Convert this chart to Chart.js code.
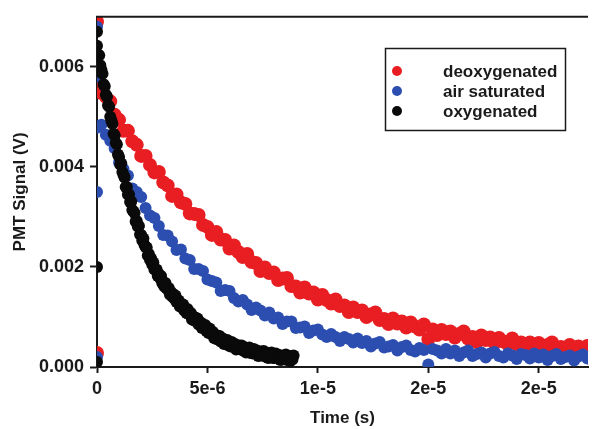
<!DOCTYPE html>
<html>
<head>
<meta charset="utf-8">
<script src="https://cdn.jsdelivr.net/npm/chart.js@4.4.1/dist/chart.umd.min.js"></script>
<style>
  html, body { margin: 0; padding: 0; background: #fff; }
</style>
</head>
<body>
<canvas id="chart" width="595" height="429"></canvas>
<script>
// series names and colours, same order as the legend
const seriesLabels = ["deoxygenated", "air saturated", "oxygenated"];
const seriesColors = ["rgb(232, 30, 34)", "rgb(44, 78, 176)", "rgb(10, 10, 10)"];

// sampling step of each trace (s)
const redStep = 2e-7;
const blueStep = 2e-7;
const blackStep = 5e-8;

// first samples at t = 0 (trigger spike)
const redEdge = [0.00028, 0.0069];
const blueEdge = [0.0002, 0.0068, 0.0058, 0.0035];
const blackEdge = [0.0001, 0.0067, 0.002];

// PMT signal (V), deoxygenated
const redValues = [
    0.00574, 0.00548, 0.0054, 0.00531, 0.00504, 0.00494, 0.00472, 0.00472, 0.00451, 0.00444,
    0.00422, 0.00422, 0.00404, 0.00389, 0.0039, 0.00369, 0.00363, 0.00342, 0.00345, 0.00329,
    0.00326, 0.00307, 0.00306, 0.00304, 0.00284, 0.0028, 0.00264, 0.0027, 0.00255, 0.00254,
    0.00237, 0.00243, 0.0023, 0.0022, 0.00226, 0.0021, 0.00208, 0.00192, 0.00199, 0.00188,
    0.00189, 0.00174, 0.00177, 0.00178, 0.00162, 0.00161, 0.00149, 0.00159, 0.00147, 0.00149,
    0.00135, 0.00144, 0.00134, 0.00127, 0.00135, 0.00122, 0.00123, 0.0011, 0.00119, 0.0011,
    0.00113, 0.001, 0.00105, 0.00109, 0.00094, 0.00096, 0.00086, 0.00097, 0.00087, 0.00091,
    0.00079, 0.00089, 0.00081, 0.00075, 0.00085, 0.00056, 0.00075, 0.00064, 0.00074, 0.00066,
    0.00071, 0.00059, 0.00066, 0.00071, 0.00057, 0.0006, 0.0005, 0.00063, 0.00054, 0.00059,
    0.00048, 0.00058, 0.00051, 0.00046, 0.00057, 0.00046, 0.00049, 0.00038, 0.00049, 0.00043,
    0.00048, 0.00037, 0.00044, 0.00049, 0.00037, 0.0004, 0.00031, 0.00044, 0.00036, 0.00041,
    0.0003, 0.00042, 0.00035
];

// PMT signal (V), air saturated
const blueValues = [
    0.00478, 0.00484, 0.00464, 0.00452, 0.00437, 0.00409, 0.00396, 0.00383, 0.00357, 0.0035,
    0.0034, 0.00318, 0.00303, 0.00298, 0.00282, 0.00264, 0.00263, 0.00251, 0.00234, 0.00235,
    0.00217, 0.00214, 0.00196, 0.00196, 0.00192, 0.00175, 0.00172, 0.00169, 0.00152, 0.00154,
    0.00152, 0.00138, 0.00131, 0.00134, 0.00125, 0.00114, 0.00119, 0.00113, 0.00103, 0.00109,
    0.00097, 0.00099, 0.00086, 0.00091, 0.00091, 0.00078, 0.00079, 0.00081, 0.00068, 0.00073,
    0.00075, 0.00065, 0.0006, 0.00066, 0.0006, 0.00052, 0.0006, 0.00056, 0.00049, 0.00057,
    0.00048, 0.00052, 0.00041, 0.00047, 0.0005, 0.00039, 0.00041, 0.00044, 0.00033, 0.0004,
    0.00043, 0.00034, 0.00031, 0.00038, 0.00034, 0.00005, 0.00036, 0.00033, 0.00027, 0.00036,
    0.00027, 0.00033, 0.00022, 0.00029, 0.00033, 0.00022, 0.00026, 0.00029, 0.00019, 0.00027,
    0.0003, 0.00022, 0.00019, 0.00027, 0.00023, 0.00016, 0.00026, 0.00024, 0.00017, 0.00027,
    0.00019, 0.00025, 0.00014, 0.00022, 0.00026, 0.00016, 0.0002, 0.00023, 0.00013, 0.00021,
    0.00025, 0.00017, 0.00014
];

// PMT signal (V), oxygenated
const blackValues = [
    0.00642, 0.00624, 0.00623, 0.00603, 0.00594, 0.00586, 0.00565, 0.00561, 0.00544, 0.0054,
    0.00523, 0.0052, 0.005, 0.00493, 0.00486, 0.00466, 0.00463, 0.00448, 0.00445, 0.00425,
    0.0042, 0.00405, 0.00407, 0.0039, 0.00384, 0.00379, 0.0036, 0.0036, 0.00345, 0.00345,
    0.0033, 0.00331, 0.00314, 0.00311, 0.00308, 0.00291, 0.00292, 0.00281, 0.00282, 0.00265,
    0.00264, 0.00253, 0.00257, 0.00244, 0.0024, 0.00239, 0.00223, 0.00226, 0.00214, 0.00217,
    0.00205, 0.00209, 0.00195, 0.00195, 0.00195, 0.00182, 0.00186, 0.00178, 0.00182, 0.00168,
    0.0017, 0.00161, 0.00168, 0.00157, 0.00156, 0.00158, 0.00145, 0.0015, 0.00141, 0.00146,
    0.00137, 0.00143, 0.0013, 0.00132, 0.00133, 0.00121, 0.00126, 0.0012, 0.00125, 0.00113,
    0.00116, 0.00108, 0.00116, 0.00106, 0.00106, 0.00108, 0.00095, 0.00101, 0.00093, 0.00099,
    0.00091, 0.00097, 0.00085, 0.00087, 0.00089, 0.00078, 0.00084, 0.00078, 0.00084, 0.00072,
    0.00076, 0.00068, 0.00077, 0.00067, 0.00067, 0.0007, 0.00058, 0.00064, 0.00056, 0.00063,
    0.00055, 0.00062, 0.00051, 0.00054, 0.00057, 0.00046, 0.00052, 0.00047, 0.00054, 0.00043,
    0.00048, 0.00041, 0.0005, 0.00042, 0.00043, 0.00046, 0.00035, 0.00042, 0.00036, 0.00043,
    0.00036, 0.00043, 0.00033, 0.00036, 0.00039, 0.00029, 0.00036, 0.00031, 0.00039, 0.00028,
    0.00033, 0.00027, 0.00036, 0.00028, 0.00029, 0.00033, 0.00022, 0.0003, 0.00023, 0.00031,
    0.00024, 0.00032, 0.00021, 0.00025, 0.00028, 0.00018, 0.00026, 0.00021, 0.00029, 0.00018,
    0.00024, 0.00018, 0.00027, 0.00019, 0.00021, 0.00024, 0.00014, 0.00022, 0.00015, 0.00023,
    0.00017, 0.00025, 0.00014, 0.00018, 0.00022, 0.00012, 0.00019, 0.00015, 0.00023
];

// axis ticks and their printed labels
const xTicks = [0, 5e-6, 1e-5, 1.5e-5, 2e-5];
const xTickLabels = ["0", "5e-6", "1e-5", "2e-5", "2e-5"];
const yTicks = [0, 0.002, 0.004, 0.006];
const yTickLabels = ["0.000", "0.002", "0.004", "0.006"];

function toPoints(values, step, edge) {
    const pts = edge.map((v) => ({ x: 0, y: v }));
    values.forEach((v, i) => pts.push({ x: i * step, y: v }));
    return pts;
}

const FONT = "'Liberation Sans', Arial, sans-serif";
const INK = "#1a1a1a";

// top frame line and the boxed legend inside the plot
const frameAndLegend = {
    id: "frameAndLegend",
    afterDraw(chart) {
        const { ctx, chartArea } = chart;
        ctx.save();
        ctx.strokeStyle = INK;
        ctx.lineWidth = 2;
        ctx.beginPath();
        ctx.moveTo(chartArea.left - 1, chartArea.top);
        ctx.lineTo(chartArea.right, chartArea.top);
        ctx.stroke();

        ctx.lineWidth = 1.5;
        ctx.strokeRect(385.5, 48.5, 180, 82);
        ctx.font = "bold 17px " + FONT;
        ctx.textBaseline = "middle";
        ctx.textAlign = "left";
        chart.data.datasets.forEach((ds, i) => {
            const y = 71 + i * 20;
            ctx.fillStyle = ds.backgroundColor;
            ctx.beginPath();
            ctx.arc(397, y, 5, 0, Math.PI * 2);
            ctx.fill();
            ctx.fillStyle = INK;
            ctx.fillText(ds.label, 443, y + 1);
        });
        ctx.restore();
    },
};

const chartData = {
    datasets: [
        {
            label: seriesLabels[0],
            data: toPoints(redValues, redStep, redEdge),
            backgroundColor: seriesColors[0],
            pointRadius: 7,
            order: 2,
        },
        {
            label: seriesLabels[1],
            data: toPoints(blueValues, blueStep, blueEdge),
            backgroundColor: seriesColors[1],
            pointRadius: 6,
            order: 1,
        },
        {
            label: seriesLabels[2],
            data: toPoints(blackValues, blackStep, blackEdge),
            backgroundColor: seriesColors[2],
            pointRadius: 6,
            order: 0,
        },
    ],
};

const config = {
    type: "scatter",
    data: chartData,
    options: {
        responsive: false,
        animation: false,
        layout: { padding: { top: 14, right: 0, bottom: 0, left: 0 } },
        elements: {
            point: { borderWidth: 0, hoverRadius: 6 },
        },
        plugins: {
            legend: { display: false },
            tooltip: { enabled: false },
        },
        scales: {
            x: {
                type: "linear",
                min: 0,
                max: 2.223e-5,
                afterBuildTicks: (scale) => {
                    scale.ticks = xTicks.map((v) => ({ value: v }));
                },
                afterFit: (scale) => {
                    scale.height = 62;
                },
                ticks: {
                    callback: (value, index) => xTickLabels[index],
                    color: INK,
                    font: { family: FONT, size: 18, weight: "bold" },
                    padding: 5,
                    maxRotation: 0,
                },
                grid: {
                    drawOnChartArea: false,
                    tickLength: 6,
                    tickWidth: 2,
                    tickColor: INK,
                },
                border: { color: INK, width: 2 },
                title: {
                    display: true,
                    text: "Time (s)",
                    color: INK,
                    font: { family: FONT, size: 17, weight: "bold" },
                    padding: { top: 0, bottom: 0 },
                },
            },
            y: {
                type: "linear",
                min: 0,
                max: 0.007,
                afterBuildTicks: (scale) => {
                    scale.ticks = yTicks.map((v) => ({ value: v }));
                },
                afterFit: (scale) => {
                    scale.width = 97;
                },
                ticks: {
                    callback: (value, index) => yTickLabels[index],
                    color: INK,
                    font: { family: FONT, size: 18, weight: "bold" },
                    padding: 6,
                },
                grid: {
                    drawOnChartArea: false,
                    tickLength: 7,
                    tickWidth: 2,
                    tickColor: INK,
                },
                border: { color: INK, width: 2 },
                title: {
                    display: true,
                    text: "PMT Signal (V)",
                    color: INK,
                    font: { family: FONT, size: 17, weight: "bold" },
                    padding: { top: 10, bottom: 0 },
                },
            },
        },
    },
    plugins: [frameAndLegend],
};

const chart = new Chart(document.getElementById("chart"), config);
</script>
</body>
</html>
